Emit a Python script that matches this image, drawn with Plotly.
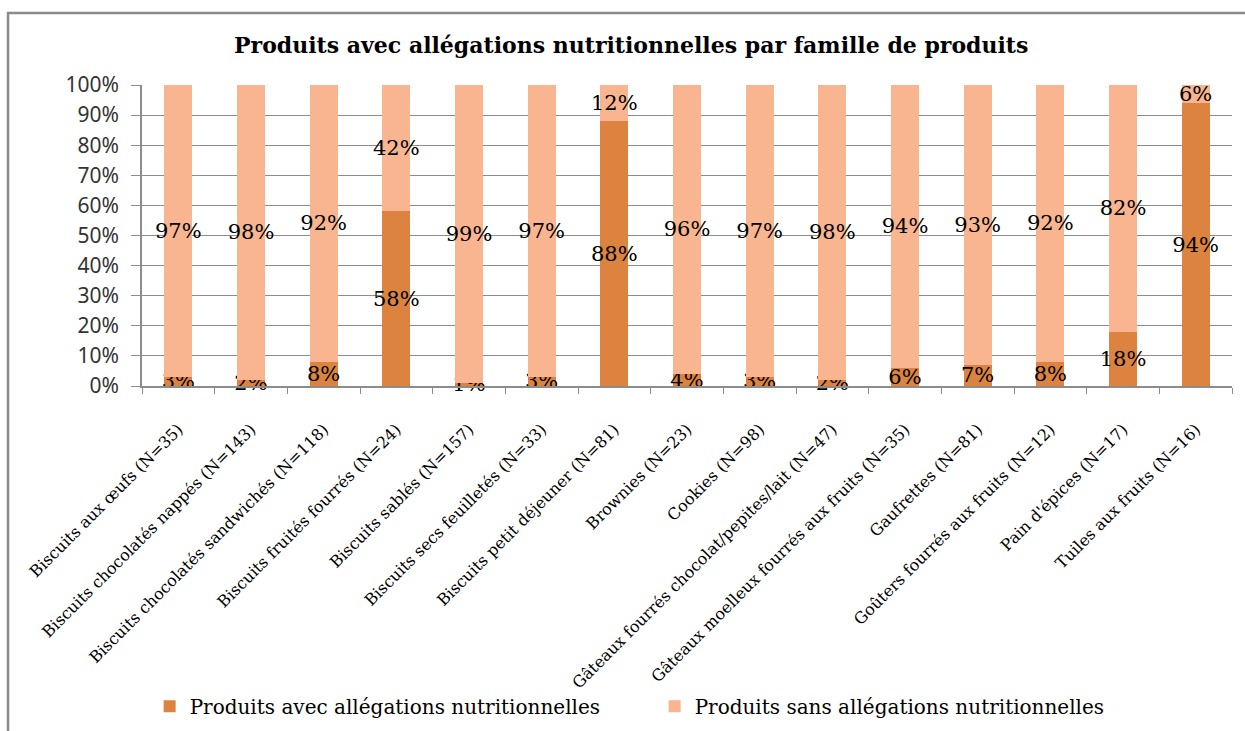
import plotly.graph_objects as go

# Product families and their sample sizes
categories = [
    "Biscuits aux œufs (N=35)",
    "Biscuits chocolatés nappés (N=143)",
    "Biscuits chocolatés sandwichés (N=118)",
    "Biscuits fruités fourrés (N=24)",
    "Biscuits sablés (N=157)",
    "Biscuits secs feuilletés (N=33)",
    "Biscuits petit déjeuner (N=81)",
    "Brownies (N=23)",
    "Cookies (N=98)",
    "Gâteaux fourrés chocolat/pepites/lait (N=47)",
    "Gâteaux moelleux fourrés aux fruits (N=35)",
    "Gaufrettes (N=81)",
    "Goûters fourrés aux fruits (N=12)",
    "Pain d'épices (N=17)",
    "Tuiles aux fruits (N=16)",
]

# Share of products (%) with / without nutrition claims
avec_allegations = [3, 2, 8, 58, 1, 3, 88, 4, 3, 2, 6, 7, 8, 18, 94]
sans_allegations = [97, 98, 92, 42, 99, 97, 12, 96, 97, 98, 94, 93, 92, 82, 6]

y_ticks = list(range(0, 101, 10))
y_tick_labels = [f"{v}%" for v in y_ticks]

DARK = "#DC843F"
LIGHT = "#F8B590"
GRID = "#8C8C8C"
SERIF = "DejaVu Serif"

fig = go.Figure()
for name, values, color in [
    ("Produits avec allégations nutritionnelles", avec_allegations, DARK),
    ("Produits sans allégations nutritionnelles", sans_allegations, LIGHT),
]:
    fig.add_trace(go.Bar(
        x=categories,
        y=values,
        name=name,
        marker=dict(color=color, line=dict(width=0)),
        text=[f"{v}%" for v in values],
        textposition="inside",
        insidetextanchor="middle",
        constraintext="none",
        textangle=0,
        textfont=dict(family=SERIF, size=21, color="black"),
        cliponaxis=False,
    ))

fig.update_layout(
    barmode="stack",
    bargap=0.615,
    width=1245,
    height=731,
    margin=dict(l=142, r=13, t=85, b=345),
    paper_bgcolor="white",
    plot_bgcolor="white",
    title=dict(
        text="<b>Produits avec allégations nutritionnelles par famille de produits</b>",
        font=dict(family=SERIF, size=22, color="black"),
        x=0.507, xref="container", xanchor="center",
        y=0.938, yref="container", yanchor="middle",
    ),
    showlegend=True,
    legend=dict(
        orientation="h",
        x=0.007, xanchor="left",
        y=0.034, yref="container", yanchor="middle",
        font=dict(family=SERIF, size=20, color="black"),
        entrywidth=460, entrywidthmode="pixels",
        bgcolor="rgba(0,0,0,0)",
        traceorder="normal",
        itemclick=False,
    ),
    xaxis=dict(
        tickangle=-45,
        tickfont=dict(family=SERIF, size=16, color="black"),
        ticklabelstandoff=26,
        showline=True, linecolor=GRID, linewidth=1.5,
        ticks="outside", tickson="boundaries", ticklen=6, tickcolor=GRID,
        showgrid=False,
        automargin=False,
    ),
    yaxis=dict(
        range=[0, 100],
        tickvals=y_ticks,
        ticktext=y_tick_labels,
        tickfont=dict(family="Noto Sans", size=21, color="#333333"),
        ticklabelstandoff=8,
        showline=True, linecolor=GRID, linewidth=1.5,
        ticks="outside", ticklen=9, tickcolor=GRID,
        showgrid=True, gridcolor=GRID, gridwidth=1,
        zeroline=False,
        automargin=False,
    ),
    shapes=[dict(
        type="rect", xref="paper", yref="paper",
        x0=-0.1229, x1=1.03, y0=-1.3, y1=1.239,
        line=dict(color="#8A8A8A", width=2.5),
        fillcolor="rgba(0,0,0,0)",
        layer="below",
    )],
)

fig.write_html("out.html")
